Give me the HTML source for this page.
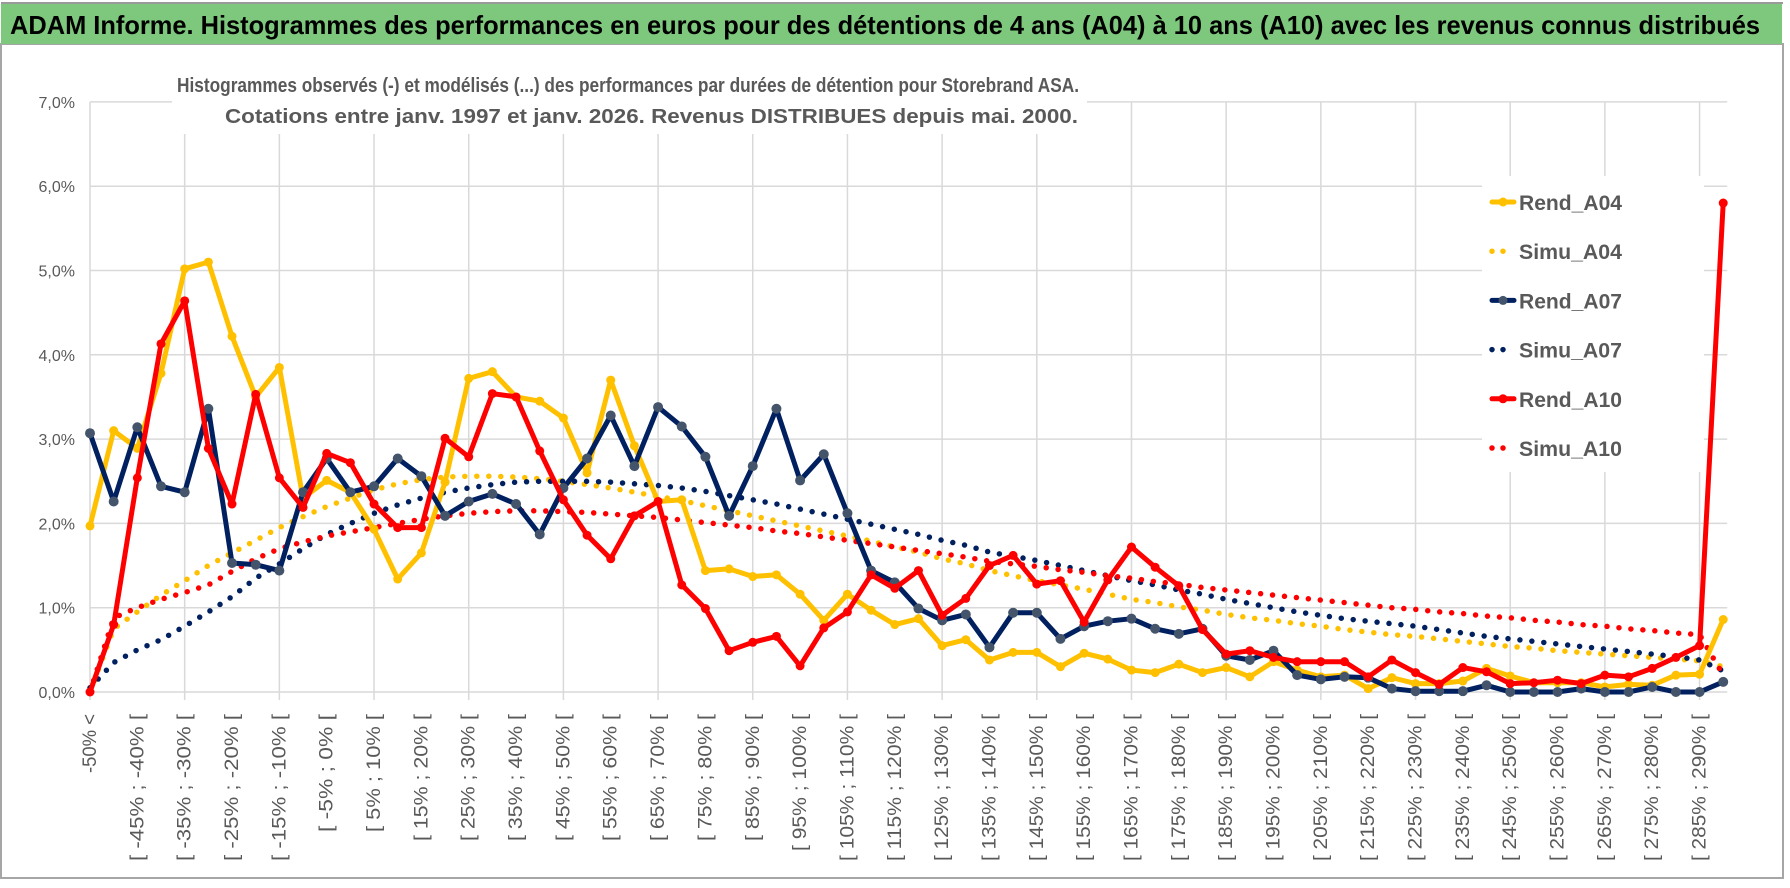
<!DOCTYPE html>
<html><head><meta charset="utf-8">
<style>
html,body{margin:0;padding:0;background:#fff;}
svg{display:block;font-family:"Liberation Sans",sans-serif;}
</style></head>
<body>
<svg id="chart" width="1790" height="888" viewBox="0 0 1790 888" xmlns="http://www.w3.org/2000/svg">
  <rect x="0" y="0" width="1790" height="888" fill="#fff"/>
  <rect x="1" y="44" width="1782" height="834" fill="none" stroke="#a6a6a6" stroke-width="2"/>
  <rect x="1" y="3" width="1781" height="41" fill="#7dc87d"/>
  <line x1="1" y1="3" x2="1783" y2="3" stroke="#9a9a9a" stroke-width="2"/>
  <text x="10" y="34" font-size="26" font-weight="bold" fill="#000" textLength="1750" lengthAdjust="spacingAndGlyphs">ADAM Informe. Histogrammes des performances en euros pour des détentions de 4 ans (A04) à 10 ans (A10) avec les revenus connus distribués</text>
  <g id="grid"></g>
  <g id="ylabels"></g>
  <g id="xlabels"></g>
  <rect x="172" y="62" width="915" height="72" fill="#fff"/>
  <text x="177" y="92" font-size="20" font-weight="bold" fill="#595959" textLength="902" lengthAdjust="spacingAndGlyphs">Histogrammes observés (-) et modélisés (...) des performances par durées de détention pour Storebrand ASA.</text>
  <text x="225" y="123" font-size="20" font-weight="bold" fill="#595959" textLength="853" lengthAdjust="spacingAndGlyphs">Cotations entre janv. 1997 et janv. 2026. Revenus DISTRIBUES depuis mai. 2000.</text>
  <g id="series"></g>
  <g id="legend"></g>
</svg>
<script>
const categoriesStart = -50;
const categoryCount = 70;
const yTicks = [0,1,2,3,4,5,6,7];
const rendA04 = [1.97,3.1,2.89,3.78,5.02,5.1,4.22,3.5,3.85,2.3,2.51,2.37,1.93,1.34,1.65,2.49,3.72,3.8,3.5,3.45,3.25,2.6,3.7,2.92,2.26,2.28,1.44,1.46,1.37,1.39,1.16,0.85,1.16,0.97,0.8,0.87,0.55,0.62,0.38,0.47,0.47,0.3,0.46,0.39,0.26,0.23,0.33,0.23,0.29,0.18,0.36,0.26,0.18,0.2,0.04,0.17,0.1,0.1,0.13,0.28,0.19,0.11,0.11,0.11,0.06,0.09,0.08,0.2,0.21,0.86];
const rendA07 = [3.07,2.26,3.14,2.44,2.37,3.36,1.53,1.51,1.44,2.37,2.77,2.37,2.44,2.77,2.56,2.09,2.26,2.35,2.23,1.87,2.42,2.77,3.28,2.68,3.38,3.15,2.79,2.09,2.68,3.36,2.51,2.82,2.12,1.44,1.3,0.99,0.85,0.92,0.53,0.94,0.94,0.63,0.78,0.84,0.87,0.75,0.69,0.75,0.43,0.38,0.49,0.2,0.15,0.18,0.17,0.04,0.01,0.01,0.01,0.08,0,0,0,0.04,0,0,0.06,0,0,0.12];
const rendA10 = [0,0.8,2.54,4.13,4.64,2.89,2.23,3.53,2.54,2.19,2.83,2.72,2.23,1.95,1.95,3.01,2.79,3.54,3.5,2.86,2.28,1.86,1.58,2.09,2.26,1.27,0.99,0.49,0.59,0.66,0.31,0.76,0.95,1.39,1.23,1.44,0.91,1.11,1.5,1.62,1.28,1.32,0.83,1.33,1.72,1.48,1.26,0.74,0.45,0.49,0.41,0.36,0.36,0.36,0.18,0.38,0.23,0.09,0.29,0.24,0.1,0.11,0.14,0.1,0.2,0.18,0.28,0.41,0.55,5.8];
const simuA04 = [0,0.75,0.95,1.15,1.32,1.5,1.65,1.8,1.95,2.08,2.2,2.3,2.4,2.47,2.52,2.55,2.56,2.56,2.55,2.53,2.5,2.46,2.42,2.37,2.32,2.27,2.21,2.15,2.09,2.03,1.97,1.91,1.85,1.79,1.72,1.66,1.58,1.52,1.44,1.38,1.32,1.27,1.22,1.16,1.1,1.06,1.01,0.97,0.92,0.88,0.85,0.81,0.78,0.74,0.71,0.68,0.66,0.63,0.6,0.57,0.54,0.52,0.49,0.47,0.45,0.43,0.41,0.39,0.37,0.3];
const simuA07 = [0.05,0.35,0.5,0.62,0.78,0.95,1.13,1.35,1.52,1.7,1.87,2.0,2.12,2.22,2.3,2.37,2.42,2.46,2.49,2.5,2.5,2.5,2.49,2.47,2.45,2.42,2.38,2.33,2.28,2.23,2.17,2.11,2.05,1.99,1.93,1.87,1.8,1.74,1.66,1.61,1.56,1.5,1.44,1.38,1.32,1.27,1.21,1.16,1.1,1.05,1.0,0.95,0.91,0.87,0.84,0.81,0.78,0.74,0.7,0.66,0.63,0.6,0.57,0.54,0.51,0.48,0.45,0.42,0.38,0.25];
const simuA10 = [0,0.88,1.0,1.1,1.18,1.27,1.43,1.58,1.7,1.78,1.85,1.9,1.95,2.0,2.05,2.09,2.12,2.14,2.15,2.15,2.14,2.13,2.11,2.09,2.07,2.04,2.01,1.98,1.95,1.91,1.88,1.84,1.8,1.76,1.72,1.68,1.64,1.6,1.55,1.52,1.49,1.45,1.42,1.38,1.35,1.31,1.28,1.24,1.21,1.18,1.15,1.12,1.09,1.06,1.03,1.0,0.98,0.95,0.93,0.9,0.88,0.85,0.83,0.8,0.78,0.75,0.73,0.7,0.68,0.2];

const NS = "http://www.w3.org/2000/svg";
const X0 = 90, DX = 23.67, Y0 = 692, DY = 84.3;
function xPos(i){ return X0 + DX*i; }
function yPos(v){ return Y0 - DY*v; }
function mk(tag, attrs, parent){
  const e = document.createElementNS(NS, tag);
  for (const k in attrs) e.setAttribute(k, attrs[k]);
  parent.appendChild(e); return e;
}
function catLabel(i){
  if (i === 0) return "-50% <";
  const a = categoriesStart + 5*(i-1);
  return "[ " + a + "% ; " + (a+5) + "% [";
}
const grid = document.getElementById('grid');
yTicks.forEach(t => {
  const l = mk('line', {x1: X0, x2: xPos(categoryCount-1)+4, y1: yPos(t), y2: yPos(t), stroke:'#d9d9d9', 'stroke-width':1.5}, grid);
  
  
});
for (let i = 0; i < categoryCount; i += 4) {
  const l = mk('line', {x1: xPos(i), x2: xPos(i), y1: yPos(7), y2: Y0+8, stroke:'#d9d9d9', 'stroke-width':1.5}, grid);
  
  
}
const yl = document.getElementById('ylabels');
yTicks.forEach(t => {
  const tx = mk('text', {x: 75, y: yPos(t)+6, 'text-anchor':'end', 'font-size':16, fill:'#595959'}, yl);
  tx.textContent = t.toFixed(1).replace('.', ',') + '%';
  
  
});
const xl = document.getElementById('xlabels');
for (let i = 0; i < categoryCount; i += 2) {
  const x = xPos(i) + 6, y = 714;
  const s = catLabel(i);
  const tx = mk('text', {x: x, y: y, 'text-anchor':'end', 'font-size':19, fill:'#595959', textLength: (s.length*9.8).toFixed(0), lengthAdjust:'spacingAndGlyphs', transform:'rotate(-90 '+x+' '+y+')'}, xl);
  tx.textContent = s;
  
  
}
const sg = document.getElementById('series');
function pts(arr){ return arr.map((v,i)=> xPos(i).toFixed(1)+','+yPos(v).toFixed(1)).join(' '); }
function dotted(arr, color, name){
  const p = mk('polyline', {points: pts(arr), fill:'none', stroke: color, 'stroke-width':5.5, 'stroke-linecap':'round', 'stroke-dasharray':'0 12'}, sg);
  
  
}
function solid(arr, color, mcolor, r, name){
  const p = mk('polyline', {points: pts(arr), fill:'none', stroke: color, 'stroke-width':5, 'stroke-linejoin':'round'}, sg);
  
  
  arr.forEach((v,i) => {
    const c = mk('circle', {cx: xPos(i), cy: yPos(v), r: r, fill: mcolor}, sg);
    
    
  });
}
dotted(simuA04, '#ffc000', 'simu-a04');
dotted(simuA07, '#002060', 'simu-a07');
dotted(simuA10, '#ff0000', 'simu-a10');
solid(rendA04, '#ffc000', '#ffc000', 4.5, 'rend-a04');
solid(rendA07, '#002060', '#44546a', 5, 'rend-a07');
solid(rendA10, '#ff0000', '#ff0000', 4.5, 'rend-a10');

const lg = document.getElementById('legend');
const bg = mk('rect', {x: 1482, y: 176, width: 222, height: 296, fill:'#fff'}, lg);


const legendNames = ['Rend_A04','Simu_A04','Rend_A07','Simu_A07','Rend_A10','Simu_A10'];
const legendColors = ['#ffc000','#ffc000','#002060','#002060','#ff0000','#ff0000'];
const legendMarker = ['#ffc000','#ffc000','#44546a','#002060','#ff0000','#ff0000'];
legendNames.forEach((n, k) => {
  const y = 202 + 49.2*k;
  const g = mk('g', {}, lg);
  
  
  if (n.startsWith('Rend')) {
    mk('line', {x1:1492, x2:1514, y1:y, y2:y, stroke: legendColors[k], 'stroke-width':5, 'stroke-linecap':'round'}, g);
    mk('circle', {cx:1503, cy:y, r:4.5, fill: legendMarker[k]}, g);
  } else {
    mk('line', {x1:1492, x2:1514, y1:y, y2:y, stroke: legendColors[k], 'stroke-width':5.5, 'stroke-linecap':'round', 'stroke-dasharray':'0 11'}, g);
  }
  const t = mk('text', {x:1519, y:y+8, 'font-size':21, 'font-weight':'bold', fill:'#595959', textLength:103, lengthAdjust:'spacingAndGlyphs'}, g);
  t.textContent = n;
});
</script>
</body></html>
